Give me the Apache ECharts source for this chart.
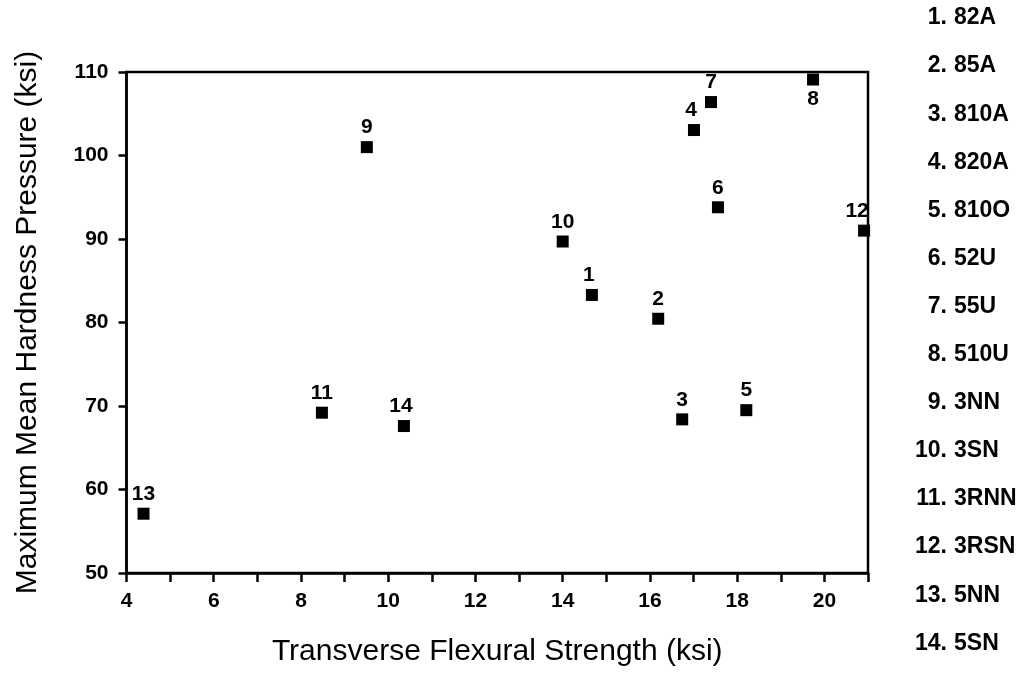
<!DOCTYPE html>
<html>
<head>
<meta charset="utf-8">
<script src="https://cdn.jsdelivr.net/npm/echarts@6/dist/echarts.min.js"></script>
<style>html,body{margin:0;padding:0;background:#fff}#c{width:1028px;height:674px}</style>
</head>
<body>
<div id="c"></div>
<script>
// ---- data ----
const ids = [1,2,3,4,5,6,7,8,9,10,11,12,13,14];
const names = ['82A','85A','810A','820A','810O','52U','55U','510U','3NN','3SN','3RNN','3RSN','5NN','5SN'];
const flexural = [14.67,16.19,16.74,17.01,18.21,17.56,17.40,19.74,9.51,14.00,8.48,20.91,4.39,10.36];
const hardness = [83.3,80.45,68.4,103.05,69.5,93.8,106.4,109.1,101.0,89.7,69.2,91.0,57.1,67.6];
const xTickLabels = ['4','6','8','10','12','14','16','18','20'];
const yTickLabels = ['50','60','70','80','90','100','110'];
const xTitle = 'Transverse Flexural Strength (ksi)';
const yTitle = 'Maximum Mean Hardness Pressure (ksi)';

// ---- style overrides for individual point labels ----
const labelStyle = {
  8: {position: 'bottom'},
  12: {offset: [-7, 0]},
  4: {offset: [-3, 0]},
  1: {offset: [-3, 0]},
  14: {offset: [-3, 0]}
};

const FONT = '"Liberation Sans", Arial, Helvetica, sans-serif';
const chart = echarts.init(document.getElementById('c'), null, {renderer: 'canvas'});

const points = ids.map((id, i) => {
  const item = {value: [flexural[i], hardness[i]], name: String(id)};
  if (labelStyle[id]) item.label = labelStyle[id];
  return item;
});

const legendGraphics = [];
ids.forEach((id, i) => {
  const y = 18 + i * 48.1;
  legendGraphics.push({
    type: 'text', x: 947, y: y,
    style: {text: id + '.', font: 'bold 23px ' + FONT, fill: '#000', textAlign: 'right', textVerticalAlign: 'middle'}
  });
  legendGraphics.push({
    type: 'text', x: 954, y: y,
    style: {text: names[i], font: 'bold 23px ' + FONT, fill: '#000', textAlign: 'left', textVerticalAlign: 'middle'}
  });
});

chart.setOption({
  animation: false,
  backgroundColor: '#fff',
  grid: {left: 126.5, right: 160, top: 72, bottom: 101, show: true, borderColor: '#000', borderWidth: 2.5, backgroundColor: 'transparent'},
  xAxis: {
    type: 'value', min: 4, max: 21, interval: 1,
    name: xTitle, nameLocation: 'middle', nameGap: 64,
    nameTextStyle: {fontFamily: FONT, fontSize: 30, color: '#000'},
    axisLine: {show: true, onZero: false, lineStyle: {color: '#000', width: 2.5}},
    axisTick: {show: true, inside: false, length: 9, lineStyle: {color: '#000', width: 2.5}},
    axisLabel: {
      margin: 18, fontFamily: FONT, fontWeight: 'bold', fontSize: 21, color: '#000',
      formatter: v => xTickLabels.indexOf(String(v)) >= 0 ? String(v) : ''
    },
    splitLine: {show: false}
  },
  yAxis: {
    type: 'value', min: 50, max: 110, interval: 10,
    name: yTitle, nameLocation: 'middle', nameGap: 84, nameRotate: 90,
    nameTextStyle: {fontFamily: FONT, fontSize: 30, color: '#000'},
    axisLine: {show: true, onZero: false, lineStyle: {color: '#000', width: 2.5}},
    axisTick: {show: true, inside: false, length: 8, lineStyle: {color: '#000', width: 2.5}},
    axisLabel: {
      margin: 18, fontFamily: FONT, fontWeight: 'bold', fontSize: 21, color: '#000',
      formatter: v => yTickLabels.indexOf(String(v)) >= 0 ? String(v) : ''
    },
    splitLine: {show: false}
  },
  series: [{
    type: 'scatter',
    symbol: 'rect',
    symbolSize: 12,
    itemStyle: {color: '#000', opacity: 1},
    clip: false,
    label: {
      show: true, position: 'top', distance: 3,
      formatter: p => p.name,
      fontFamily: FONT, fontWeight: 'bold', fontSize: 21, color: '#000', opacity: 1
    },
    emphasis: {disabled: true},
    data: points
  }],
  graphic: legendGraphics
});
</script>
</body>
</html>
